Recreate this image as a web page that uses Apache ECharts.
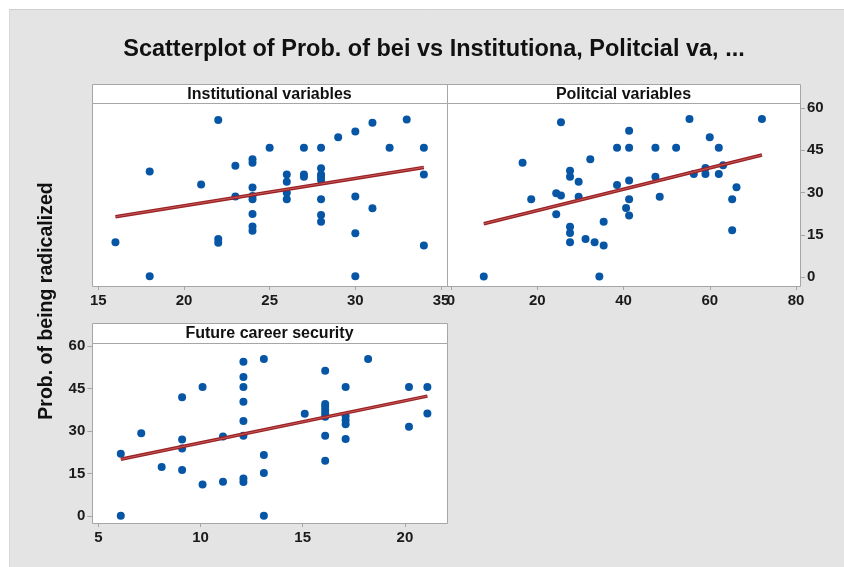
<!DOCTYPE html>
<html>
<head>
<meta charset="utf-8">
<script src="https://cdn.jsdelivr.net/npm/echarts@6/dist/echarts.min.js"></script>
<style>
  html, body { margin: 0; padding: 0; background: #fff; }
  #box { width: 844px; height: 567px; }
</style>
</head>
<body>
<div id="box"></div>
<script>
// panel titles and tick labels
var panelNames = ['Institutional variables', 'Politcial variables', 'Future career security'];
var instTicks = [15, 20, 25, 30, 35];
var polTicks = [0, 20, 40, 60, 80];
var carTicks = [5, 10, 15, 20];
var probTicks = [0, 15, 30, 45, 60];

// Institutional variables
var instX = [22, 18, 16, 18, 21, 22, 22, 23, 23, 24, 24, 24, 24, 24, 24, 24, 24, 25, 26, 26, 26, 26, 27, 27, 27,
    28, 28, 28, 28, 28, 28, 28, 28, 29, 30, 30, 30, 30, 31, 31, 32, 33, 34, 34, 34];
var instY = [55.7, 37.5, 12.3, 0.3, 32.8, 13.5, 12.2, 39.5, 28.6, 41.8, 40.6, 31.8, 28.8, 27.6, 22.4, 17.9, 16.4, 45.9,
    36.4, 33.8, 29.9, 27.6, 45.9, 36.4, 35.6, 45.9, 38.6, 36.4, 35.6, 34.4, 27.6, 22.0, 19.6, 49.6, 51.7, 28.6, 15.5,
    0.3, 54.8, 24.4, 45.9, 55.9, 45.9, 36.4, 11.2];
var instFitX = [16, 34];
var instFitY = [21.4, 38.9];

// Politcial variables
var polX = [7.6, 16.6, 18.6, 24.4, 25.5, 24.4, 25.5, 27.6, 27.6, 27.6, 27.6, 27.6, 29.6, 29.6, 31.2, 32.3, 33.3, 34.4,
    35.4, 35.4, 38.5, 38.5, 40.6, 41.3, 41.3, 41.3, 41.3, 41.3, 47.4, 47.4, 48.4, 52.2, 55.3, 56.3, 59.0, 59.0, 60.0,
    62.1, 62.1, 63.1, 65.2, 65.2, 66.2, 72.1];
var polY = [0.2, 40.6, 27.6, 29.7, 28.9, 22.3, 54.9, 37.7, 35.6, 17.8, 15.6, 12.3, 33.8, 28.5, 13.5, 41.8, 12.3, 0.2,
    19.6, 11.2, 45.9, 32.7, 24.5, 51.9, 45.9, 34.3, 27.6, 21.8, 45.9, 35.6, 28.5, 45.9, 56.1, 36.6, 38.7, 36.6, 49.6,
    45.9, 36.6, 39.7, 27.6, 16.6, 31.9, 56.1];
var polFitX = [7.6, 72.1];
var polFitY = [18.9, 43.3];

// Future career security
var carX = [6.1, 6.1, 7.1, 8.1, 9.1, 9.1, 9.1, 9.1, 10.1, 10.1, 11.1, 11.1, 12.1, 12.1, 12.1, 12.1, 12.1, 12.1, 12.1,
    12.1, 13.1, 13.1, 13.1, 13.1, 15.1, 16.1, 16.1, 16.1, 16.1, 16.1, 16.1, 16.1, 16.1, 17.1, 17.1, 17.1, 17.1, 17.1,
    18.2, 20.2, 20.2, 21.1, 21.1];
var carY = [22.0, 0.1, 29.2, 17.3, 41.9, 27.0, 23.8, 16.2, 45.5, 11.1, 28.1, 12.1, 54.4, 49.1, 45.5, 40.3, 33.5, 28.3,
    13.2, 12.0, 55.4, 21.5, 15.2, 0.1, 36.1, 51.3, 39.5, 38.6, 37.4, 36.2, 35.0, 28.3, 19.5, 45.5, 35.3, 33.8, 32.4,
    27.2, 55.4, 45.5, 31.5, 45.5, 36.2];
var carFitX = [6.1, 21.1];
var carFitY = [20.0, 42.3];

function pairs(xs, ys) {
    var list = [];
    for (var i = 0; i < xs.length; i++) {
        list.push([xs[i], ys[i]]);
    }
    return list;
}

var dotColor = '#0756a6';
var edge = '#a6a6a6';
var labelStyle = { color: '#1a1a1a', fontSize: 15, fontWeight: 'bold', fontFamily: 'Liberation Sans' };

// axes start at the first tick; offset pushes them out to the panel frame
function xAxisFor(idx, ticks, max, off) {
    return {
        type: 'value', gridIndex: idx,
        min: ticks[0], max: max,
        offset: off,
        splitLine: { show: false },
        axisLine: { show: false, onZero: false },
        axisTick: { show: true, length: 4, customValues: ticks, lineStyle: { color: edge } },
        axisLabel: Object.assign({ margin: 7, customValues: ticks, hideOverlap: false }, labelStyle)
    };
}

function yAxisFor(idx, pos, off, visible) {
    return {
        type: 'value', gridIndex: idx,
        min: probTicks[0], max: probTicks[probTicks.length - 1], interval: probTicks[1] - probTicks[0],
        position: pos, offset: off, show: visible,
        splitLine: { show: false },
        axisLine: { show: false, onZero: false },
        axisTick: { show: true, length: 5, lineStyle: { color: edge } },
        axisLabel: Object.assign({ margin: 7, showMinLabel: true, showMaxLabel: true }, labelStyle)
    };
}

function scatter(idx, data) {
    return {
        type: 'scatter', xAxisIndex: idx, yAxisIndex: idx, data: data,
        symbol: 'circle', symbolSize: 8, clip: false,
        itemStyle: { color: dotColor, opacity: 1 },
        z: 3
    };
}

// fitted line: dark red band with a lighter core
function fit(idx, data) {
    return [{
        type: 'line', xAxisIndex: idx, yAxisIndex: idx, data: data,
        showSymbol: false, symbol: 'none', silent: true, clip: false,
        lineStyle: { color: '#9a2024', width: 3.5 },
        z: 4
    }, {
        type: 'line', xAxisIndex: idx, yAxisIndex: idx, data: data,
        showSymbol: false, symbol: 'none', silent: true, clip: false,
        lineStyle: { color: '#c65a58', width: 1 },
        z: 5
    }];
}

// white data region with its caption strip above
function panel(x, y, w, h, stripH, text) {
    return [{
        type: 'rect', z: 0, shape: { x: x + 0.5, y: y + stripH + 0.5, width: w, height: h },
        style: { fill: '#fff', stroke: edge, lineWidth: 1 }
    }, {
        type: 'rect', z: 0, shape: { x: x + 0.5, y: y + 0.5, width: w, height: stripH },
        style: { fill: '#fff', stroke: edge, lineWidth: 1 }
    }, {
        type: 'text', z: 1, x: x + w / 2, y: y + stripH / 2 + 1,
        style: {
            text: text, fill: '#111', fontSize: 16, fontWeight: 'bold', fontFamily: 'Liberation Sans',
            align: 'center', verticalAlign: 'middle'
        }
    }];
}

var myChart = echarts.init(document.getElementById('box'));

var option = {
    backgroundColor: '#e4e4e4',
    animation: false,
    grid: [
        { left: 98.3, top: 108, width: 342.7, height: 169 },
        { left: 451, top: 108, width: 345, height: 169 },
        { left: 98.3, top: 346, width: 348.5, height: 170 }
    ],
    xAxis: [
        xAxisFor(0, instTicks, 35, 9),
        xAxisFor(1, polTicks, 80, 9),
        xAxisFor(2, carTicks, 22.05, 7)
    ],
    yAxis: [
        yAxisFor(0, 'left', 6, false),
        yAxisFor(1, 'right', 4, true),
        yAxisFor(2, 'left', 6, true)
    ],
    series: [
        scatter(0, pairs(instX, instY)),
        scatter(1, pairs(polX, polY)),
        scatter(2, pairs(carX, carY))
    ].concat(fit(0, pairs(instFitX, instFitY)))
     .concat(fit(1, pairs(polFitX, polFitY)))
     .concat(fit(2, pairs(carFitX, carFitY))),
    graphic: [
        // white margin at top and left like the exported picture
        { type: 'rect', shape: { x: 0, y: 0, width: 844, height: 9 }, style: { fill: '#fff' } },
        { type: 'rect', shape: { x: 0, y: 0, width: 9, height: 567 }, style: { fill: '#fff' } },
        { type: 'line', shape: { x1: 9, y1: 9.5, x2: 844, y2: 9.5 }, style: { stroke: '#cfcfcf', lineWidth: 1 } },
        { type: 'line', shape: { x1: 9.5, y1: 9, x2: 9.5, y2: 567 }, style: { stroke: '#d8d8d8', lineWidth: 1 } },
        {
            type: 'text', x: 434, y: 50,
            style: {
                text: 'Scatterplot of Prob. of bei vs Institutiona, Politcial va, ...',
                fill: '#111', fontSize: 23.5, fontWeight: 'bold', fontFamily: 'Liberation Sans',
                align: 'center', verticalAlign: 'middle'
            }
        },
        {
            type: 'text', x: 47, y: 301, rotation: Math.PI / 2,
            style: {
                text: 'Prob. of being radicalized',
                fill: '#111', fontSize: 19.5, fontWeight: 'bold', fontFamily: 'Liberation Sans',
                align: 'center', verticalAlign: 'middle'
            }
        }
    ].concat(panel(92, 84, 355, 183, 19, panelNames[0]))
     .concat(panel(447, 84, 353, 183, 19, panelNames[1]))
     .concat(panel(92, 323, 355, 180, 20, panelNames[2]))
};

myChart.setOption(option);
</script>
</body>
</html>
